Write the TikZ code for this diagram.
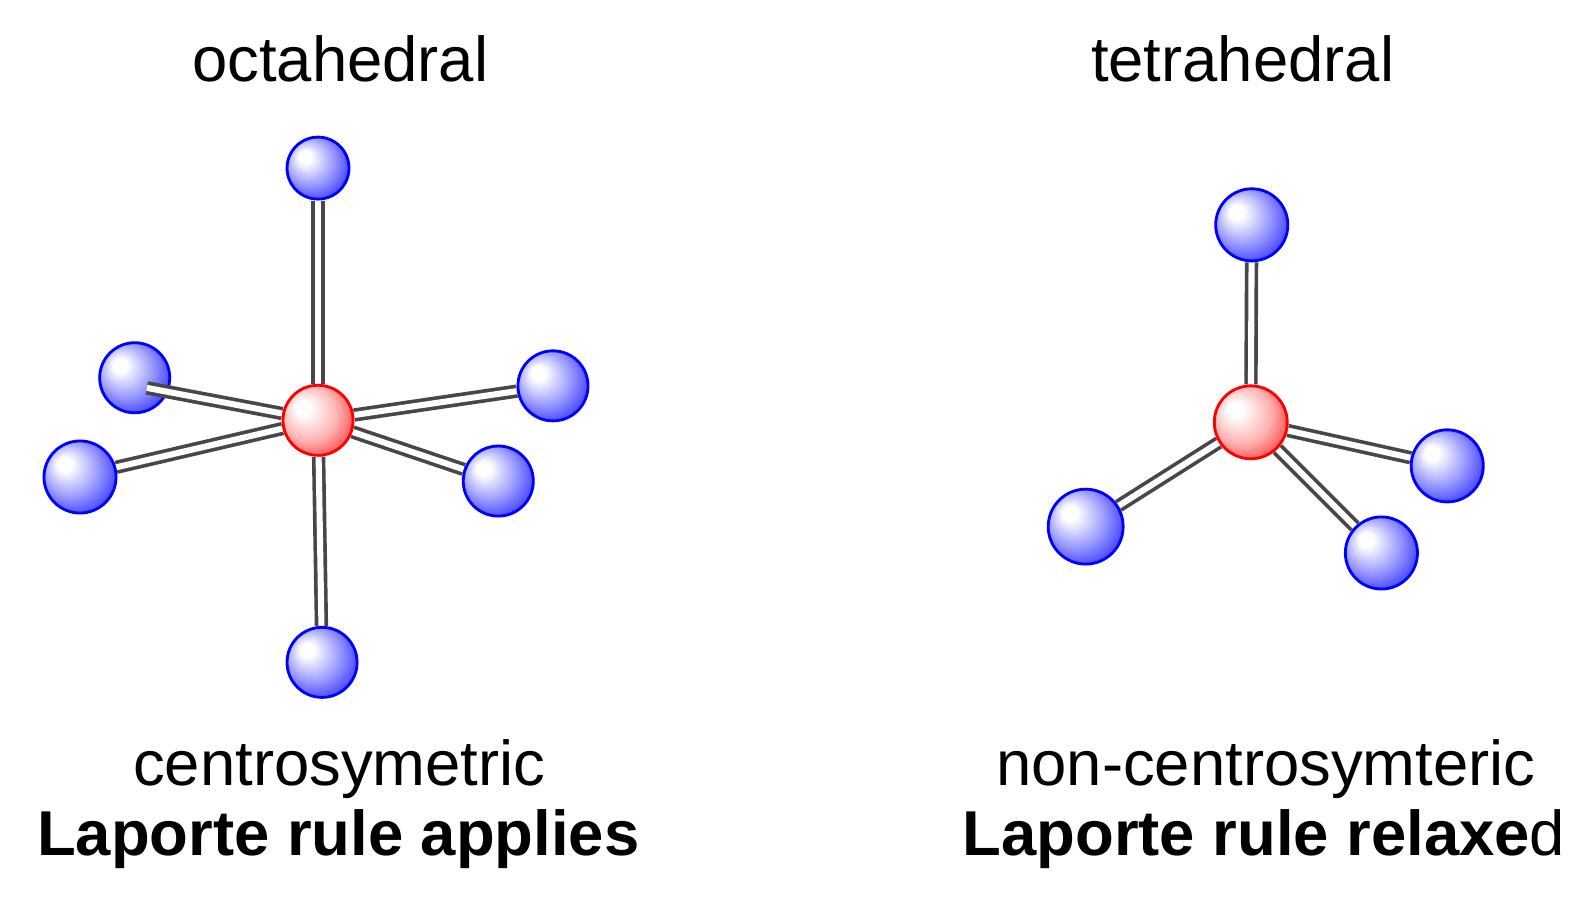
\documentclass[tikz,border=0pt]{standalone}
\usepackage{fontspec}
\setmainfont{Liberation Sans}
\pgfdeclarelayer{backball}
\pgfdeclarelayer{bonds}
\pgfsetlayers{backball,bonds,main}
\pgfdeclareradialshading{bluesphere}{\pgfpoint{-12bp}{10bp}}{color(0bp)=(white); color(5bp)=(white); color(20bp)=(blue!42!white); color(34bp)=(blue!85!white); color(44bp)=(blue)}
\pgfdeclareradialshading{redsphere}{\pgfpoint{-12bp}{10bp}}{color(0bp)=(white); color(5bp)=(white); color(20bp)=(red!30!white); color(34bp)=(red!80!white); color(44bp)=(red)}
\begin{document}
\begin{tikzpicture}[x=0.5pt,y=-0.5pt]
	\tikzstyle{Ligand} = [circle, inner sep=0pt, minimum size=34.6pt, draw=blue, line width=1.4pt, shading=bluesphere]
	\tikzstyle{Metal} = [circle, inner sep=0pt, minimum size=34.6pt, draw=red, line width=1.4pt, shading=redsphere]
	\tikzstyle{bond} = [line width=1.8pt, draw=black!72, double=white, double distance=3pt]
	\tikzstyle{label} = [font=\fontsize{31.3}{36}\selectfont, text=black, inner sep=0pt]
	
	\useasboundingbox (0,0) rectangle (1568,887);
	
	\node (octa) [label] at (336,58) {octahedral};
	\node (tetra) [label] at (1227,58) {tetrahedral};
	\node (centro) [label] at (335,759) {centrosymetric};
	\node (noncentro) [label] at (1250,759) {non-centrosymteric};
	\node (applies) [label] at (334,829) {\textbf{Laporte rule applies}};
	\node (relaxed) [label] at (1248,829) {\textbf{Laporte rule relaxe}d};
	
	\begin{pgfonlayer}{backball}
		\node (oc) [Ligand] at (133,373) {};
	\end{pgfonlayer}
	\coordinate (octip) at (145,383);
	\node (om) [Metal] at (314,415) {};
	\node (oa) [Ligand, minimum size=30.6pt] at (314,166) {};
	\node (ob) [Ligand] at (546,381) {};
	\node (od) [Ligand, minimum size=35.6pt] at (79,471) {};
	\node (oe) [Ligand] at (492,475) {};
	\node (of) [Ligand] at (318,654) {};
	
	\node (tm) [Metal, minimum size=36pt] at (1235,417) {};
	\node (ta) [Ligand, minimum size=35.6pt] at (1236,222) {};
	\node (tb) [Ligand, minimum size=35.6pt] at (1429,460) {};
	\node (tc) [Ligand, minimum size=37pt] at (1072,520) {};
	\node (td) [Ligand, minimum size=35.6pt] at (1364,546) {};
	
	\begin{pgfonlayer}{bonds}
		\foreach \ligand in {oa,ob,oe,of}
			\draw [bond] (om) -- (\ligand);
		\draw [bond] (om) -- (od.15);
		\draw [bond] (om) -- (octip);
		\foreach \ligand in {ta,tb,tc,td}
			\draw [bond] (tm) -- (\ligand);
	\end{pgfonlayer}
\end{tikzpicture}
\end{document}
